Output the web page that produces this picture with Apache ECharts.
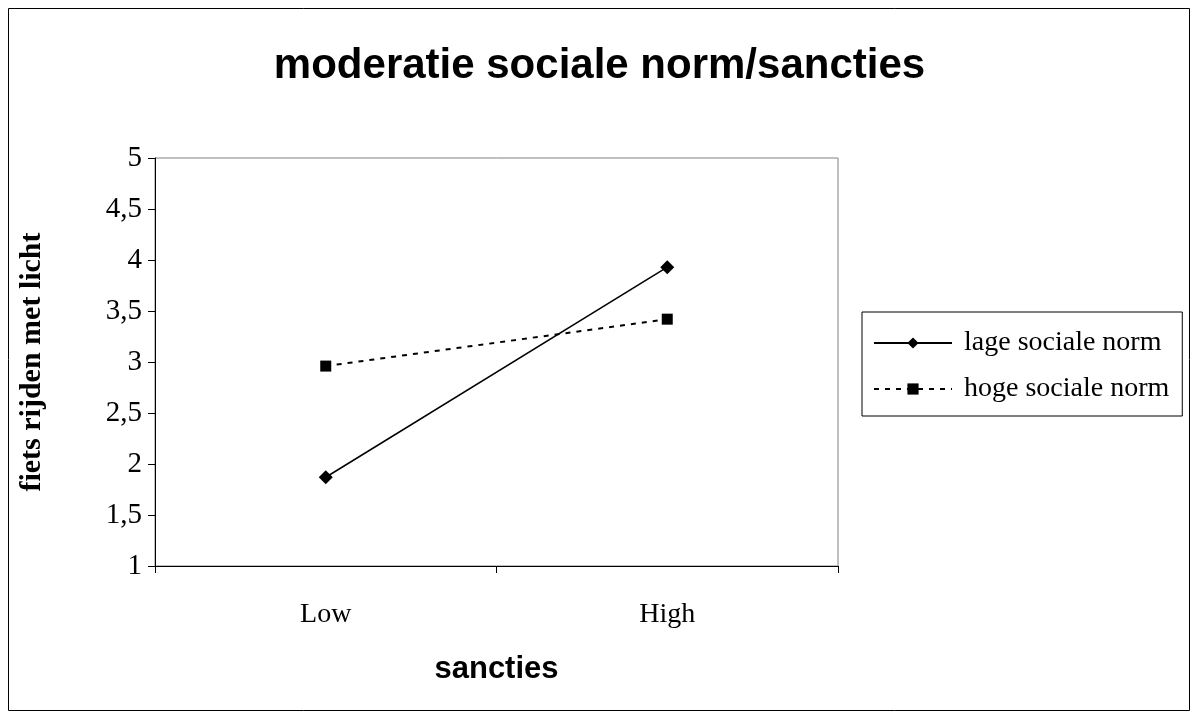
<!DOCTYPE html>
<html>
<head>
<meta charset="utf-8">
<script src="https://cdn.jsdelivr.net/npm/echarts@6/dist/echarts.min.js"></script>
<style>
  html, body { margin: 0; padding: 0; background: #fff; }
  #main { width: 1199px; height: 717px; }
</style>
</head>
<body>
<div id="main"></div>
<script>
// data
var categories = ['Low', 'High'];
var lageNorm = [1.87, 3.93];
var hogeNorm = [2.96, 3.42];
var seriesNames = ['lage sociale norm', 'hoge sociale norm'];

var chart = echarts.init(document.getElementById('main'));
var serif = '"Liberation Serif", "DejaVu Serif", serif';
var sans = '"Liberation Sans", Arial, sans-serif';

var option = {
  backgroundColor: '#fff',
  animation: false,
  title: {
    text: 'moderatie sociale norm/sancties',
    left: 'center',
    top: 40,
    textStyle: { fontFamily: sans, fontSize: 42, fontWeight: 'bold', color: '#000' }
  },
  graphic: [{
    type: 'rect',
    shape: { x: 8.5, y: 8.5, width: 1181, height: 702 },
    style: { fill: 'none', stroke: '#000', lineWidth: 1 },
    silent: true
  }],
  legend: {
    orient: 'vertical',
    left: 862,
    top: 312,
    padding: [17, 13, 13, 11],
    itemGap: 18,
    itemWidth: 78,
    itemHeight: 14,
    borderColor: '#000',
    borderWidth: 1,
    data: seriesNames,
    textStyle: { fontFamily: serif, fontSize: 28, lineHeight: 28, color: '#000', padding: [0, 0, 0, 7] }
  },
  grid: {
    left: 155,
    right: 361,
    top: 158,
    bottom: 151,
    show: true,
    borderColor: '#808080',
    borderWidth: 1
  },
  xAxis: {
    type: 'category',
    data: categories,
    boundaryGap: true,
    name: 'sancties',
    nameLocation: 'middle',
    nameGap: 88,
    nameTextStyle: { fontFamily: sans, fontSize: 31, fontWeight: 'bold', color: '#000' },
    axisLine: { lineStyle: { color: '#000', width: 1 } },
    axisTick: { show: true, length: 7, lineStyle: { color: '#000' } },
    axisLabel: { fontFamily: serif, fontSize: 28, color: '#000', margin: 35 },
    splitLine: { show: false }
  },
  yAxis: {
    type: 'value',
    min: 1,
    max: 5,
    interval: 0.5,
    name: 'fiets rijden met licht',
    nameLocation: 'middle',
    nameGap: 108,
    nameTextStyle: { fontFamily: serif, fontSize: 30, fontWeight: 'bold', color: '#000' },
    axisLine: { show: true, lineStyle: { color: '#000', width: 1 } },
    axisTick: { show: true, length: 7, lineStyle: { color: '#000' } },
    axisLabel: {
      fontFamily: serif, fontSize: 29, color: '#000', margin: 13,
      formatter: function (v) { return String(v).replace('.', ','); }
    },
    splitLine: { show: false }
  },
  series: [{
    name: seriesNames[0],
    type: 'line',
    data: lageNorm,
    symbol: 'diamond',
    symbolSize: 14,
    lineStyle: { color: '#000', width: 1.5, type: 'solid' },
    itemStyle: { color: '#000' }
  }, {
    name: seriesNames[1],
    type: 'line',
    data: hogeNorm,
    symbol: 'rect',
    symbolSize: 11,
    lineStyle: { color: '#000', width: 2, type: [5, 6] },
    itemStyle: { color: '#000' }
  }]
};

chart.setOption(option);
</script>
</body>
</html>
